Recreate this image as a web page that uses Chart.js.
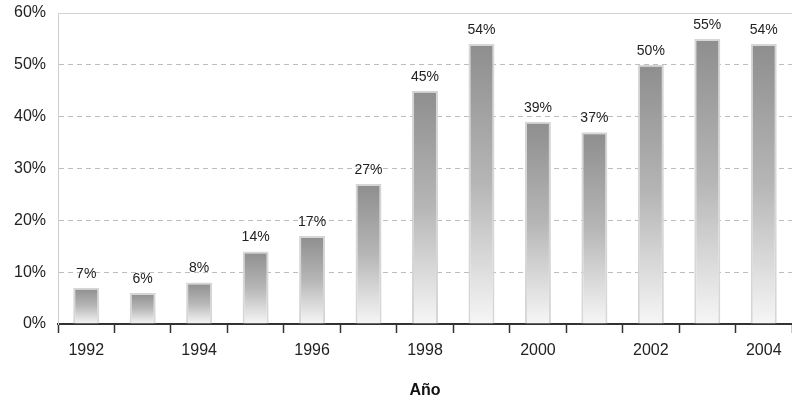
<!DOCTYPE html>
<html>
<head>
<meta charset="utf-8">
<script src="https://cdn.jsdelivr.net/npm/chart.js@4/dist/chart.umd.min.js"></script>
<style>
  html, body { margin: 0; padding: 0; background: #fff; }
  #wrap { width: 792px; height: 405px; }
</style>
</head>
<body>
<div id="wrap"><canvas id="c" width="792" height="405"></canvas></div>
<script>
// Share per year (%)
const years = ['1992','1993','1994','1995','1996','1997','1998','1999','2000','2001','2002','2003','2004'];
const shares = [7, 6, 8, 14, 17, 27, 45, 54, 39, 37, 50, 55, 54];
const yTicks = [0, 10, 20, 30, 40, 50, 60];
const axisTitle = 'Año';

const FONT = "'Liberation Sans', Arial, Helvetica, sans-serif";

// Vertical grey fade for each bar, dark at the top, almost white at the base
function barFill(ctx) {
  const chart = ctx.chart;
  const y = chart.scales && chart.scales.y;
  if (ctx.type !== 'data' || !y || !ctx.parsed) return '#aaaaaa';
  const top = y.getPixelForValue(ctx.parsed.y);
  const base = y.getPixelForValue(0);
  if (!isFinite(top) || !isFinite(base) || top === base) return '#aaaaaa';
  const g = chart.ctx.createLinearGradient(0, top, 0, base);
  g.addColorStop(0, '#8e8e8e');
  g.addColorStop(0.5, '#b6b6b6');
  g.addColorStop(1, '#f6f6f6');
  return g;
}

// Solid frame line along the top of the plot
const topLine = {
  id: 'topLine',
  beforeDatasetsDraw(chart) {
    const { ctx, chartArea } = chart;
    ctx.save();
    ctx.strokeStyle = '#d2d2d2';
    ctx.lineWidth = 1;
    ctx.beginPath();
    ctx.moveTo(chartArea.left, Math.round(chartArea.top) + 0.5);
    ctx.lineTo(chartArea.right, Math.round(chartArea.top) + 0.5);
    ctx.stroke();
    ctx.restore();
  }
};

// Percentage label above every bar
const valueLabels = {
  id: 'valueLabels',
  afterDatasetsDraw(chart) {
    const { ctx } = chart;
    const meta = chart.getDatasetMeta(0);
    ctx.save();
    ctx.fillStyle = '#222';
    ctx.font = '14px ' + FONT;
    ctx.textAlign = 'center';
    ctx.textBaseline = 'bottom';
    meta.data.forEach((el, i) => {
      ctx.fillText(shares[i] + '%', el.x, el.y - 7);
    });
    ctx.restore();
  }
};

new Chart(document.getElementById('c'), {
  type: 'bar',
  data: {
    labels: years,
    datasets: [{
      data: shares,
      backgroundColor: barFill,
      borderColor: '#d6d6d6',
      borderWidth: 2,
      borderSkipped: 'start',
      barPercentage: 0.46,
      categoryPercentage: 1
    }]
  },
  options: {
    responsive: false,
    animation: false,
    devicePixelRatio: 1,
    layout: { padding: { top: 13, right: 0, left: 0, bottom: 0 } },
    plugins: {
      legend: { display: false },
      tooltip: { enabled: false }
    },
    scales: {
      x: {
        type: 'category',
        offset: true,
        grid: {
          offset: true,
          drawOnChartArea: false,
          drawTicks: true,
          tickLength: 9,
          tickColor: '#333',
          tickWidth: 1.5
        },
        border: { display: true, color: '#333', width: 2 },
        ticks: {
          autoSkip: false,
          maxRotation: 0,
          padding: 8,
          color: '#222',
          font: { family: FONT, size: 16 },
          callback(v, i) { return i % 2 === 0 ? years[i] : ''; }
        },
        title: {
          display: true,
          text: axisTitle,
          color: '#111',
          font: { family: FONT, size: 16, weight: 'bold' },
          padding: { top: 0, bottom: 5 }
        },
        afterFit(scale) {
          scale.height = 81;
          scale.paddingLeft = 0;
          scale.paddingRight = 0;
        }
      },
      y: {
        min: 0,
        max: 60,
        afterBuildTicks(scale) { scale.ticks = yTicks.map(v => ({ value: v })); },
        grid: {
          drawTicks: false,
          lineWidth: 1,
          color(ctx) {
            const v = ctx.tick && ctx.tick.value;
            return (v === 0 || v === 60) ? 'rgba(0,0,0,0)' : '#bdbdbd';
          }
        },
        border: { display: true, color: '#cfcfcf', width: 1, dash: [5, 4] },
        ticks: {
          padding: 12,
          color: '#222',
          font: { family: FONT, size: 16 },
          callback(v) { return v + '%'; }
        },
        afterFit(scale) {
          scale.width = 58;
          scale.paddingTop = 0;
          scale.paddingBottom = 0;
        }
      }
    }
  },
  plugins: [topLine, valueLabels]
});
</script>
</body>
</html>
